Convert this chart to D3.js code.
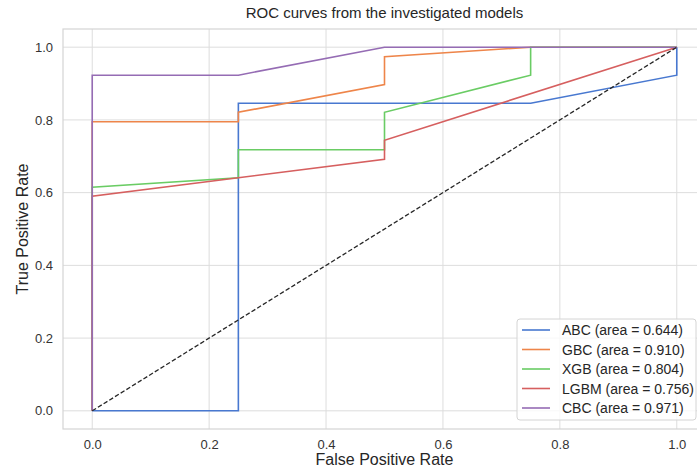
<!DOCTYPE html>
<html>
<head>
<meta charset="utf-8">
<script src="https://cdn.jsdelivr.net/npm/d3@7"></script>
<style>
  body { margin: 0; background: #fff; }
  text { font-family: "Liberation Sans", Arial, sans-serif; fill: #262626; }
</style>
</head>
<body>
<div id="chart"></div>
<script>
// ROC points, fpr / tpr per model
const abcFpr = [0, 0.25, 0.25, 0.75, 1, 1];
const abcTpr = [0, 0, 0.846, 0.846, 0.923, 1];

const gbcFpr = [0, 0, 0.25, 0.25, 0.5, 0.5, 0.75, 1];
const gbcTpr = [0, 0.795, 0.795, 0.821, 0.897, 0.974, 1, 1];

const xgbFpr = [0, 0, 0.25, 0.25, 0.5, 0.5, 0.75, 0.75, 1];
const xgbTpr = [0, 0.615, 0.641, 0.718, 0.718, 0.821, 0.923, 1, 1];

const lgbmFpr = [0, 0, 0.25, 0.5, 0.5, 1];
const lgbmTpr = [0, 0.590, 0.641, 0.692, 0.744, 1];

const cbcFpr = [0, 0, 0.25, 0.5, 1];
const cbcTpr = [0, 0.923, 0.923, 1, 1];

const modelNames = ['ABC', 'GBC', 'XGB', 'LGBM', 'CBC'];
const modelAuc = [0.644, 0.910, 0.804, 0.756, 0.971];
const modelColors = ['#4878d0', '#ee854a', '#6acc64', '#d65f5f', '#956cb4'];
const tickValues = [0, 0.2, 0.4, 0.6, 0.8, 1.0];

const models = [
  [abcFpr, abcTpr], [gbcFpr, gbcTpr], [xgbFpr, xgbTpr],
  [lgbmFpr, lgbmTpr], [cbcFpr, cbcTpr]
].map((d, i) => ({
  name: modelNames[i],
  auc: modelAuc[i],
  color: modelColors[i],
  points: d[0].map((f, j) => [f, d[1][j]])
}));

const W = 697, H = 468;
const plotL = 63, plotT = 29, plotR = 706, plotB = 429;

const svg = d3.select('#chart')
  .append('svg')
  .attr('width', W)
  .attr('height', H);

const x = d3.scaleLinear().domain([-0.05, 1.05]).range([plotL, plotR]);
const y = d3.scaleLinear().domain([-0.05, 1.05]).range([plotB, plotT]);

// grid
svg.append('g')
  .selectAll('line')
  .data(tickValues)
  .join('line')
  .attr('x1', d => x(d)).attr('x2', d => x(d))
  .attr('y1', plotT).attr('y2', plotB)
  .style('stroke', '#dddddd')
  .style('stroke-width', 1);

svg.append('g')
  .selectAll('line')
  .data(tickValues)
  .join('line')
  .attr('x1', plotL).attr('x2', plotR)
  .attr('y1', d => y(d)).attr('y2', d => y(d))
  .style('stroke', '#dddddd')
  .style('stroke-width', 1);

// frame
svg.append('rect')
  .attr('x', plotL)
  .attr('y', plotT)
  .attr('width', plotR - plotL)
  .attr('height', plotB - plotT)
  .style('fill', 'none')
  .style('stroke', '#d4d4d4')
  .style('stroke-width', 1.2);

// axes (labels only, seaborn whitegrid has no tick marks)
const xAxis = svg.append('g')
  .attr('transform', `translate(0,${plotB})`)
  .call(d3.axisBottom(x).tickValues(tickValues).tickFormat(d3.format('.1f')).tickSize(0).tickPadding(11));
const yAxis = svg.append('g')
  .attr('transform', `translate(${plotL},0)`)
  .call(d3.axisLeft(y).tickValues(tickValues).tickFormat(d3.format('.1f')).tickSize(0).tickPadding(10));

[xAxis, yAxis].forEach(a => {
  a.select('.domain').remove();
  a.selectAll('text')
    .style('font-size', '13px')
    .style('font-family', '"Liberation Sans", Arial, sans-serif')
    .style('fill', '#333333');
});

// curves
const line = d3.line().x(d => x(d[0])).y(d => y(d[1]));

svg.append('g')
  .selectAll('path')
  .data(models)
  .join('path')
  .attr('d', d => line(d.points))
  .style('fill', 'none')
  .style('stroke', d => d.color)
  .style('stroke-width', 1.6);

// chance line
svg.append('path')
  .attr('d', line([[0, 0], [1, 1]]))
  .style('fill', 'none')
  .style('stroke', '#262626')
  .style('stroke-width', 1.3)
  .style('stroke-dasharray', '4.5,2.2');

// titles
svg.append('text')
  .text('ROC curves from the investigated models')
  .attr('x', (plotL + plotR) / 2)
  .attr('y', 18)
  .attr('text-anchor', 'middle')
  .style('font-size', '15px');

svg.append('text')
  .text('False Positive Rate')
  .attr('x', (plotL + plotR) / 2)
  .attr('y', 465)
  .attr('text-anchor', 'middle')
  .style('font-size', '16px');

svg.append('text')
  .text('True Positive Rate')
  .attr('transform', `translate(28,${(plotT + plotB) / 2}) rotate(-90)`)
  .attr('text-anchor', 'middle')
  .style('font-size', '16px');

// legend
const legend = svg.append('g')
  .attr('transform', 'translate(517,319)');

legend.append('rect')
  .attr('width', 179)
  .attr('height', 101)
  .attr('rx', 3)
  .style('fill', '#ffffff')
  .style('fill-opacity', 0.8)
  .style('stroke', '#d4d4d4')
  .style('stroke-width', 1);

const row = legend.selectAll('g.row')
  .data(models)
  .join('g')
  .attr('class', 'row')
  .attr('transform', (d, i) => `translate(5,${11 + i * 19.5})`);

row.append('line')
  .attr('x1', 0).attr('x2', 28)
  .style('stroke', d => d.color)
  .style('stroke-width', 1.6);

row.append('text')
  .text(d => `${d.name} (area = ${d.auc.toFixed(3)})`)
  .attr('x', 40)
  .attr('y', 5)
  .style('font-size', '14px');
</script>
</body>
</html>
